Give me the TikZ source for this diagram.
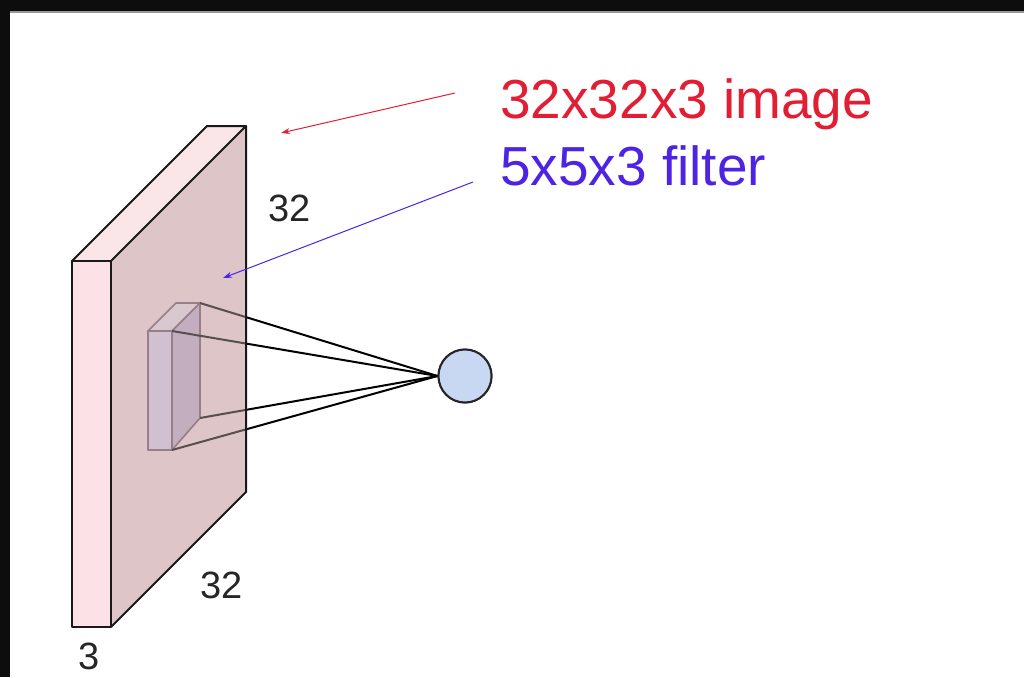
\documentclass[tikz,border=0pt]{standalone}
\usepackage{fontspec}
\setmainfont{Liberation Sans}
\usepackage{xcolor}
\usetikzlibrary{arrows.meta}
\definecolor{slabfront}{RGB}{252,226,230}
\definecolor{slabtop}{RGB}{250,229,232}
\definecolor{slabside}{RGB}{222,197,200}
\definecolor{filtfront}{RGB}{200,190,214}
\definecolor{filtside}{RGB}{178,160,186}
\definecolor{filttop}{RGB}{214,202,214}
\definecolor{filtedge}{RGB}{105,80,92}
\definecolor{neuronfill}{RGB}{200,215,242}
\definecolor{imgred}{RGB}{226,30,52}
\definecolor{filtblue}{RGB}{78,36,228}

\begin{document}
\begin{tikzpicture}[x=1pt, y=-1pt,
    edge/.style={draw=black!90, line width=2pt, line join=round},
    fedge/.style={draw=filtedge, line width=1.6pt, line join=round},
    wire/.style={black, line width=2pt},
    dimlabel/.style={font=\fontsize{38}{40}\selectfont, text=black!85, inner sep=0pt},
    callout/.style={font=\fontsize{55}{60}\selectfont, anchor=base west, inner sep=0pt},
    pointer/.style={-{Stealth[length=9pt,width=6pt]}, line width=1pt}
]
% frame of the slide
\useasboundingbox (0,0) rectangle (1024,677);
\fill[white] (0,0) rectangle (1024,677);
\fill[black!95] (0,0) rectangle (1024,11);
\fill[black!40] (10,11) rectangle (1024,13);
\fill[black!95] (0,0) rectangle (10,677);

% corners of the 32x32x3 slab
\coordinate (ftl) at (72,261);
\coordinate (ftr) at (111,261);
\coordinate (fbl) at (72,627);
\coordinate (fbr) at (111,627);
\coordinate (btl) at (207,126);
\coordinate (btr) at (246,126);
\coordinate (bbr) at (246,492);

% corners of the 5x5x3 filter
\coordinate (qtl) at (148,331);
\coordinate (qtr) at (172,331);
\coordinate (qbl) at (148,450);
\coordinate (qbr) at (172,450);
\coordinate (rtl) at (176,303);
\coordinate (rtr) at (200,303);
\coordinate (rbr) at (200,418);

% slab faces
\fill[slabfront] (fbl) -- (ftl) -- (ftr) -- (fbr) -- cycle;
\fill[slabtop] (ftl) -- (btl) -- (btr) -- (ftr) -- cycle;
\fill[slabside] (ftr) -- (btr) -- (bbr) -- (fbr) -- cycle;

% filter
\filldraw[fedge, fill=filtfront] (qbl) -- (qtl) -- (qtr) -- (qbr) -- cycle;
\filldraw[fedge, fill=filttop] (qtl) -- (rtl) -- (rtr) -- (qtr) -- cycle;
\filldraw[fedge, fill=filtside] (qtr) -- (rtr) -- (rbr) -- (qbr) -- cycle;

% output neuron and wires
\node[circle, minimum size=53pt, inner sep=0pt, fill=neuronfill,
      draw=black!85, line width=2pt] (neuron) at (465,376) {};
\foreach \c in {rtr, qtr, rbr, qbr}
  \draw[wire] (\c) -- (neuron.west);

% slab seen through
\fill[slabside, fill opacity=0.4] (ftr) -- (btr) -- (bbr) -- (fbr) -- cycle;
\draw[edge] (fbl) -- (ftl) -- (ftr) -- (fbr) -- cycle;
\draw[edge] (ftl) -- (btl) -- (btr) -- (ftr);
\draw[edge] (btr) -- (bbr) -- (fbr);
\node[circle, minimum size=53pt, inner sep=0pt, fill=neuronfill,
      draw=black!85, line width=2pt] at (neuron) {};

% sizes
\node[dimlabel] (depthtop) at (290,208) {32};
\node[dimlabel] (depthbot) at (222,585) {32};
\node[dimlabel] (thick) at (89,656) {3};

% callouts
\node[callout, text=imgred] (imglabel) at (500,118) {32x32x3 image};
\node[callout, text=filtblue] (filtlabel) at (500,185) {5x5x3 filter};
\coordinate (imgtail) at (455,93);
\coordinate (imghead) at (281,133);
\coordinate (filttail) at (473,182);
\coordinate (filthead) at (223,278);
\draw[pointer, imgred] (imgtail) -- (imghead);
\draw[pointer, filtblue] (filttail) -- (filthead);
\end{tikzpicture}
\end{document}
